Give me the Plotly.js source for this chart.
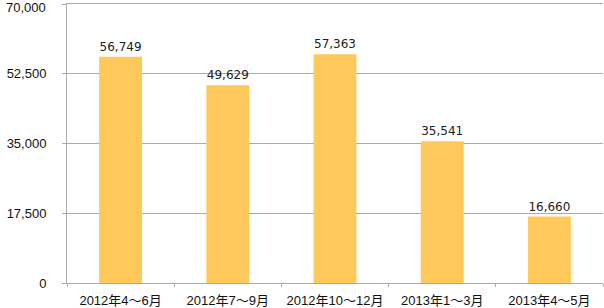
<!DOCTYPE html>
<html><head><meta charset="utf-8">
<script src="https://cdn.plot.ly/plotly-3.0.1.min.js"></script>
<style>body{margin:0;padding:0;background:#fff}#c{width:604px;height:308px}</style>
</head><body><div id="c"></div>
<script>
const categories = ["2012年4〜6月","2012年7〜9月","2012年10〜12月","2013年1〜3月","2013年4〜5月"];
const values = [56749, 49629, 57363, 35541, 16660];
const tickVals = [0, 17500, 35000, 52500, 70000];
const tickText = ["0","17,500","35,000","52,500","70,000"];

const last = tickVals.length - 1;
Plotly.newPlot('c', [{
  type: 'bar', x: categories, y: values,
  marker: {color: '#FFC85A'},
  width: 0.4,
  text: values.map(v => v.toLocaleString('en-US')),
  textposition: 'outside',
  textfont: {family: 'DejaVu Sans', size: 12, color: '#222'},
  cliponaxis: false,
  hoverinfo: 'none'
}], {
  width: 604, height: 308,
  margin: {l: 67, r: 1, t: 4, b: 25, pad: 0},
  paper_bgcolor: '#fff', plot_bgcolor: '#fff',
  showlegend: false,
  xaxis: {
    type: 'category', tickson: 'boundaries', ticks: 'outside', ticklen: 3,
    tickcolor: '#aaa', showline: true, mirror: true, linecolor: '#aaa', linewidth: 1,
    showgrid: false, tickfont: {family: 'Liberation Sans, Noto Sans CJK JP', size: 13, color: '#111'},
    ticklabelstandoff: 5, automargin: false,
    fixedrange: true
  },
  yaxis: {
    range: [0, 70000], tickmode: 'array', tickvals: tickVals,
    ticktext: tickText.map((t, i) => i === last ? '' : t),
    ticks: 'outside', ticklen: 4, tickcolor: '#aaa',
    showline: true, linecolor: '#aaa', linewidth: 1,
    showgrid: true, gridcolor: '#aaa', gridwidth: 1, zeroline: false,
    tickfont: {family: 'Liberation Sans', size: 13, color: '#111'},
    ticklabeloverflow: 'allow',
    ticklabelstandoff: 13, automargin: false, fixedrange: true
  },
  annotations: [{
    xref: 'paper', x: 0, xanchor: 'right', xshift: -20,
    yref: 'y', y: tickVals[last], yanchor: 'middle', yshift: -3,
    text: tickText[last], showarrow: false, borderpad: 0,
    font: {family: 'Liberation Sans', size: 13, color: '#111'}
  }]
}, {staticPlot: true});
</script></body></html>
